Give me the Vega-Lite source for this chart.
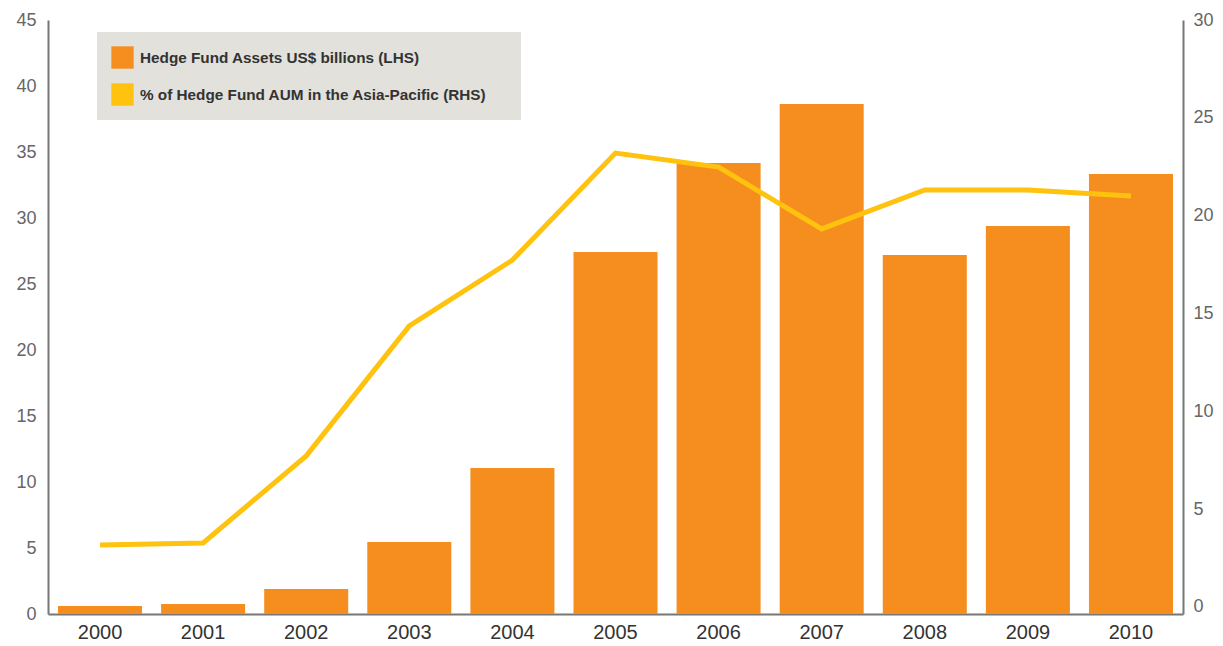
{
  "$schema": "https://vega.github.io/schema/vega-lite/v6.json",
  "width": 1135,
  "height": 594,
  "autosize": {"type": "none"},
  "padding": {"left": 48, "top": 20, "right": 40, "bottom": 32},
  "background": "white",
  "config": {
    "view": {"stroke": null},
    "font": "Liberation Sans",
    "axis": {"grid": false, "ticks": false, "domainColor": "#777777", "domainWidth": 2, "labelFont": "Liberation Sans", "title": null}
  },
  "data": {
    "values": [
      {"year": "2000", "assets": 0.6, "pct": 3.17},
      {"year": "2001", "assets": 0.76, "pct": 3.27},
      {"year": "2002", "assets": 1.9, "pct": 7.72},
      {"year": "2003", "assets": 5.45, "pct": 14.36},
      {"year": "2004", "assets": 11.06, "pct": 17.73},
      {"year": "2005", "assets": 27.42, "pct": 23.2},
      {"year": "2006", "assets": 34.17, "pct": 22.48},
      {"year": "2007", "assets": 38.64, "pct": 19.32},
      {"year": "2008", "assets": 27.2, "pct": 21.31},
      {"year": "2009", "assets": 29.39, "pct": 21.31},
      {"year": "2010", "assets": 33.33, "pct": 21.0}
    ]
  },
  "encoding": {
    "x": {
      "field": "year",
      "type": "ordinal",
      "scale": {"paddingInner": 0.185, "paddingOuter": 0.097},
      "axis": {"labelAngle": 0, "labelFontSize": 20, "labelColor": "#333333", "labelPadding": 8}
    }
  },
  "layer": [
    {
      "mark": {"type": "bar"},
      "encoding": {
        "y": {
          "field": "assets",
          "type": "quantitative",
          "scale": {"domain": [0, 45], "nice": false},
          "axis": {"orient": "left", "values": [0, 5, 10, 15, 20, 25, 30, 35, 40, 45], "labelFontSize": 18, "labelColor": "#666666", "labelPadding": 12}
        },
        "color": {
          "datum": "Hedge Fund Assets US$ billions (LHS)",
          "scale": {
            "domain": ["Hedge Fund Assets US$ billions (LHS)", "% of Hedge Fund AUM in the Asia-Pacific (RHS)"],
            "range": ["#F68E1F", "#FFC20E"]
          },
          "legend": {
            "title": "\u00a0",
            "titleOrient": "right",
            "titlePadding": 20,
            "titleFontSize": 15,
            "orient": "none",
            "legendX": 49,
            "legendY": 12,
            "fillColor": "#e2e1dc",
            "padding": 14,
            "symbolType": "square",
            "symbolSize": 500,
            "symbolStrokeWidth": 0,
            "rowPadding": 14,
            "labelOffset": 6,
            "labelFontSize": 15.3,
            "labelFontWeight": "bold",
            "labelColor": "#333333",
            "labelLimit": 700
          }
        }
      }
    },
    {
      "mark": {"type": "line", "color": "#FFC20E", "strokeWidth": 5},
      "encoding": {
        "y": {
          "field": "pct",
          "type": "quantitative",
          "scale": {"domain": [-0.36, 30], "nice": false, "zero": false},
          "axis": {"orient": "right", "values": [0, 5, 10, 15, 20, 25, 30], "labelFontSize": 18, "labelColor": "#666666", "labelPadding": 10}
        }
      }
    }
  ],
  "resolve": {"scale": {"y": "independent"}}
}
